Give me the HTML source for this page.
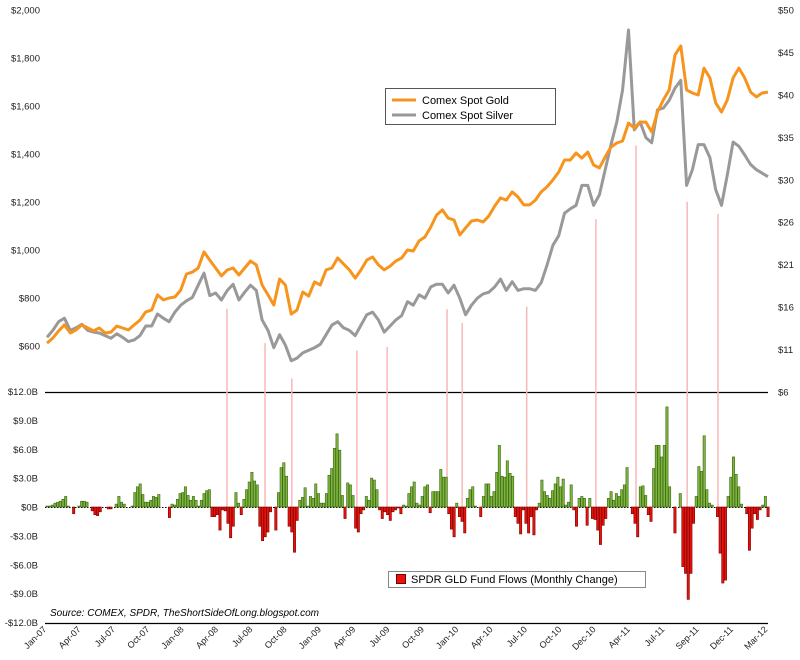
<!DOCTYPE html>
<html><head><meta charset="utf-8">
<style>
html,body{margin:0;padding:0;background:#fff;}
svg{display:block;font-family:"Liberation Sans",sans-serif;}
</style></head>
<body>
<svg id="chart" width="800" height="660" viewBox="0 0 800 660" xmlns="http://www.w3.org/2000/svg">
  <g id="grid"></g>
  <g id="events"></g>
  <g id="bars"></g>
  <g id="lines"></g>
  <g id="labels"></g>
  <g>
    <rect x="385.5" y="88.5" width="170" height="36" fill="#fff" stroke="#555" stroke-width="1"/>
    <line x1="392" y1="100" x2="416" y2="100" stroke="#f7941d" stroke-width="3"/>
    <text x="422" y="104" font-size="11" fill="#000">Comex Spot Gold</text>
    <line x1="392" y1="115" x2="416" y2="115" stroke="#999" stroke-width="3"/>
    <text x="422" y="119" font-size="11" fill="#000">Comex Spot Silver</text>
  </g>
  <g>
    <rect x="388.5" y="571.5" width="257" height="16" fill="#fff" stroke="#888" stroke-width="1"/>
    <rect x="396.5" y="574.5" width="9" height="9" fill="#e8140c" stroke="#700" stroke-width="1"/>
    <text x="411" y="583" font-size="11" fill="#000">SPDR GLD Fund Flows (Monthly Change)</text>
  </g>
  <text x="50" y="616" font-size="10" font-style="italic" fill="#000">Source: COMEX, SPDR, TheShortSideOfLong.blogspot.com</text>
</svg>
<script>
const xLabels = ["Jan-07","Apr-07","Jul-07","Oct-07","Jan-08","Apr-08","Jul-08","Oct-08","Jan-09","Apr-09","Jul-09","Oct-09","Jan-10","Apr-10","Jul-10","Oct-10","Dec-10","Apr-11","Jul-11","Sep-11","Dec-11","Mar-12"];
const goldTicks = [2000,1800,1600,1400,1200,1000,800,600];
const silverTicks = [50,45.11,40.22,35.33,30.44,25.56,20.67,15.78,10.89,6];
const flowTicks = [12,9,6,3,0,-3,-6,-9,-12];
const gold = [612,633,663,688,654,667,688,675,663,675,654,658,683,675,667,688,708,742,750,813,792,800,804,833,900,908,925,992,958,925,892,917,925,896,925,954,938,854,813,771,879,854,733,750,825,808,867,854,917,925,967,942,917,883,917,958,971,938,917,933,954,967,1000,996,1038,1054,1096,1146,1167,1133,1125,1063,1092,1121,1125,1117,1142,1183,1217,1208,1242,1221,1188,1188,1208,1242,1263,1292,1325,1375,1375,1404,1383,1408,1354,1342,1388,1429,1446,1454,1529,1508,1533,1533,1492,1575,1625,1667,1813,1850,1667,1654,1646,1758,1717,1613,1575,1625,1717,1758,1717,1658,1638,1654,1658];
const silver = [12.3,13.1,14.1,14.5,13.1,13.4,13.8,13.1,12.9,12.8,12.5,12.2,12.7,12.3,11.8,12.0,12.5,13.6,13.6,15.0,14.5,14.1,15.2,16.0,16.5,16.9,18.3,19.7,17.1,17.4,16.6,17.7,18.4,16.6,17.5,18.3,17.7,14.3,13.1,11.1,12.6,11.4,9.6,9.9,10.5,10.8,11.1,11.5,12.6,13.7,14.1,13.4,13.1,12.5,13.7,14.9,15.2,14.3,12.9,13.6,14.3,14.8,16.4,16.0,17.2,16.8,18.1,18.4,18.4,17.4,18.3,16.8,14.9,16.0,16.8,17.3,17.5,18.1,19.0,17.7,18.7,17.7,17.9,17.9,17.7,18.6,20.6,22.9,24.0,26.6,27.1,27.5,29.8,29.8,27.5,28.7,31.6,34.5,37.1,40.8,47.7,36.2,37.1,35.3,34.7,38.5,38.7,39.6,41.0,41.9,29.8,31.6,34.5,34.5,33.0,29.3,27.5,31.0,34.8,34.3,33.3,32.2,31.6,31.2,30.8];
const flows = [0.1,0.1,0.2, 0.4,0.5,0.6,0.8,1.1,0.1, 0,-0.7,0,0.1, 0.6,0.6,0.5, 0,-0.4,-0.8,-0.9,-0.5, 0,0,-0.2,-0.2,0, 0.3,1.1,0.5,0.3, 0,0,0.1, 1.5,2.1,2.4,1.3,0.5,0.5,0.7,1.1,1.0,1.3, 0,0,0,-1.1, 0.3,0.2,0.8,1.4,1.5,2.1,1.2,0.7,1.1,0.7,0.1,0.7,1.4,1.7,1.8, -1,-1,-0.8,-2.4,-0.3, -0.4,-1.7,-3.2,-2.0, 1.5,0.4, -0.8, 0.8,1.8,2.6,3.6,2.7,2.3, -2.0,-3.5,-3.1,-2.6,-0.5, 0,-2.4, 1.5,4.1,4.6,3.2, -2.0,-2.6,-4.7,-1.4, 0.7,1.0,2.0,0.1,1.1,0.9, 2.4,1.4,0.4,0.4,1.4, 3.3,4.0,6.1,7.6,5.9,1.2, -1.2, 2.5,2.3,1.2, -2.2,-2.6,-0.7,-0.3, 1.1,0.7,3.0,2.8,1.8, -0.3,-1.2,-0.5,-0.8,-1.4,-0.5,-0.3,-0.1, -0.7,0.2,0.1, 1.4,2.1,2.6,0.4,0.2,1.1,2.1,2.3, -0.6, 1.6,1.6,1.6,3.9,3.1,3.1, -0.7,-2.3,-3.1, 0.4, -1,-1.5,-2.7, 0.9,1.8,2.1, 0.1,0,-1, 1.1,2.4,2.4,1.1,1.6,3.6,6.4,3.2,3.1,4.8,3.5,3.2, -1,-1.7,-2.8, -0.3,-1.7,-2.7,-1,-2.9,-0.3, 0.4,2.8,1.6,1.2,0.9,1.7,2.4,3.1,2.1,2.9, 0.2,0.5,2.3, -0.3,-2.0, 0.9,1.1,0.9, -1.9,0.9, -1.2,-1.3,-2.4,-3.9,-1.9,-1.2, 0.9,1.6,0.7,1.4,1.1,1.8,2.3,4.1, 0,-0.7,-1.7,-3.1, 2.1,2.2,1.2, -0.8,-1.5, 4.0,6.4,6.4,5.2,6.4,10.4,2.1, 0,-2.7,0,1.4, -6.2,-6.9,-9.6,-6.9,-1.7, 1.1,4.2,3.7,7.4,1.8,0.4, 0.2,0, -1,-4.8,-7.9,-7.6, 1.1,3.1,5.2,3.4,2.1, 0.3,0, -0.7,-4.5,-2.2,-0.7,-1.3,-0.3, 0.2,1.1,-1];
const eventIdx = [30.95,37.5,42.1,53.3,58.5,68.8,71.4,82.5,94.4,101.3,110.1,115.4];

const NS = "http://www.w3.org/2000/svg";
const X0 = 47, X1 = 768;
function xLine(i){ return X0 + i*(X1-X0)/(gold.length-1); }
function xBar(k){ return X0 + k*(X1-X0)/(flows.length-1); }
function xLab(k){ return X0 + k*(X1-X0)/(xLabels.length-1); }
function yGold(v){ return 10 + (2000-v)*336/1400; }
function ySilver(v){ return 392 - (v-6)*382/44; }
function yFlow(v){ return 507 - v*(623-392)/24; }
function silverAt(t){ const a=Math.floor(t), b=Math.min(a+1,silver.length-1), f=t-a; return silver[a]*(1-f)+silver[b]*f; }
function mk(tag, attrs, parent){ const e=document.createElementNS(NS,tag); for(const k in attrs) e.setAttribute(k,attrs[k]); parent.appendChild(e); return e; }

const grid = document.getElementById('grid');
const labels = document.getElementById('labels');
let e;
e = mk('line',{x1:45,y1:392.5,x2:768,y2:392.5,stroke:'#000','stroke-width':1.3},grid);


e = mk('line',{x1:45,y1:623.5,x2:768,y2:623.5,stroke:'#000','stroke-width':1.3},grid);


e = mk('line',{x1:45,y1:507.5,x2:768,y2:507.5,stroke:'#000','stroke-width':1,'stroke-dasharray':'1.5,1.5'},grid);



goldTicks.forEach(v=>{
  const t = mk('text',{x:40,y:yGold(v)+3.5,'font-size':9.5,'text-anchor':'end',fill:'#222'},labels);
  t.textContent = '$'+v.toLocaleString('en-US');
  
  
});
silverTicks.forEach(v=>{
  const t = mk('text',{x:778,y:ySilver(v)+3.5,'font-size':9.5,fill:'#222'},labels);
  t.textContent = '$'+Math.round(v);
  
  
});
flowTicks.forEach(v=>{
  const t = mk('text',{x:38,y:yFlow(v)+3.5,'font-size':9.5,'text-anchor':'end',fill:'#222'},labels);
  t.textContent = (v<0?'-$':'$')+(v===0?'0B':Math.abs(v).toFixed(1)+'B');
  
  
});
xLabels.forEach((s,k)=>{
  const x = xLab(k);
  const t = mk('text',{x:x,y:630,'font-size':9,'text-anchor':'end',fill:'#222',transform:'rotate(-45 '+x+' 630)'},labels);
  t.textContent = s;
  
  
});

const ev = document.getElementById('events');
eventIdx.forEach(t=>{
  const x = xLine(t);
  const l = mk('line',{x1:x,y1:ySilver(silverAt(t))+18,x2:x,y2:507,stroke:'#f9b8b8','stroke-width':1.5},ev);
  
  
});

const bars = document.getElementById('bars');
flows.forEach((v,k)=>{
  if(Math.abs(v)<0.05) return;
  const x = xBar(k)-1.1;
  const y0 = yFlow(0), y1 = yFlow(v);
  const r = mk('rect',{x:x,y:Math.min(y0,y1),width:2.3,height:Math.abs(y1-y0),
    fill:v>0?'#7db53e':'#e8140c',stroke:v>0?'#3b6612':'#7a0000','stroke-width':0.6},bars);
  
  
});

const lines = document.getElementById('lines');
const sp = mk('polyline',{points:silver.map((v,i)=>xLine(i).toFixed(1)+','+ySilver(v).toFixed(1)).join(' '),fill:'none',stroke:'#999','stroke-width':3,'stroke-linejoin':'round'},lines);


const gp = mk('polyline',{points:gold.map((v,i)=>xLine(i).toFixed(1)+','+yGold(v).toFixed(1)).join(' '),fill:'none',stroke:'#f7941d','stroke-width':3,'stroke-linejoin':'round'},lines);


</script>
</body></html>
